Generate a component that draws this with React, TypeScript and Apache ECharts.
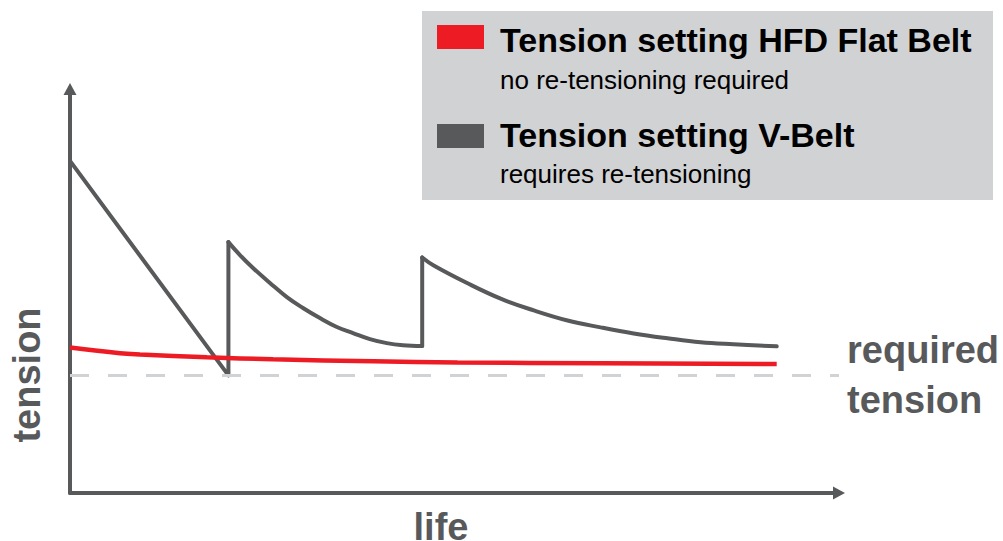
import React, { useEffect, useRef } from "react";
import * as echarts from "echarts";

// HFD flat belt tension over life
const flatLife = [0, 6.5, 9.1, 17.8, 26.4, 39.5, 50.4, 69.0, 91.9];
const flatTension = [36.0, 34.6, 34.3, 33.6, 33.1, 32.6, 32.3, 32.1, 31.9];

// V-belt tension over life (segments)
const vDropLife = [0, 20.6, 20.6];
const vDropTension = [82.2, 29.1, 62.1];
const vDecay1Life = [20.6, 22.1, 23.8, 26.0, 28.2, 30.3, 32.5, 34.7, 36.8, 39.0, 41.2, 43.3, 45.8];
const vDecay1Tension = [62.1, 58.9, 55.7, 52.0, 48.5, 45.8, 43.3, 41.1, 39.6, 38.1, 37.1, 36.6, 36.4];
const vJumpLife = [45.8, 45.8];
const vJumpTension = [36.4, 58.3];
const vDecay2Life = [45.8, 47.3, 51.7, 56.0, 60.3, 64.7, 69.0, 73.3, 77.7, 82.0, 86.3, 91.9];
const vDecay2Tension = [58.3, 56.3, 51.9, 48.1, 45.2, 42.7, 41.0, 39.5, 38.3, 37.3, 36.8, 36.3];

const requiredTension = 29.1;

const legendTitles = ["Tension setting HFD Flat Belt", "Tension setting V-Belt"];
const legendSubs = ["no re-tensioning required", "requires re-tensioning"];
const xName = "life";
const yName = "tension";
const requiredLabel = "required\ntension";

const RED = "#ed1c24";
const GRAY = "#58595b";
const LIGHT = "#d1d2d4";
const FONT = "'Liberation Sans', Arial, Helvetica, sans-serif";

const zip = (a: number[], b: number[]) => a.map((v, i) => [v, b[i]]);

export default function App() {
  const ref = useRef<HTMLDivElement>(null);
  useEffect(() => {
    if (!ref.current) return;
    const chart = echarts.init(ref.current, undefined, { renderer: "svg" });
    const grayLine = (smooth: boolean) => ({
      type: "line" as const,
      showSymbol: false,
      smooth: smooth ? 0.4 : false,
      lineStyle: { color: GRAY, width: 4, cap: "round" as const, join: "round" as const },
      itemStyle: { color: GRAY },
      z: 3,
    });
    chart.setOption({
      animation: false,
      grid: { left: 70, right: 164, top: 89, bottom: 48 },
      xAxis: {
        type: "value",
        min: 0,
        max: 100,
        axisLine: {
          show: true,
          symbol: ["none", "triangle"],
          symbolSize: [13, 12],
          lineStyle: { color: GRAY, width: 4 },
        },
        axisTick: { show: false },
        axisLabel: { show: false },
        splitLine: { show: false },
      },
      yAxis: {
        type: "value",
        min: 0,
        max: 100,
        axisLine: {
          show: true,
          symbol: ["none", "triangle"],
          symbolSize: [13, 12],
          lineStyle: { color: GRAY, width: 4 },
        },
        axisTick: { show: false },
        axisLabel: { show: false },
        splitLine: { show: false },
      },
      series: [
        {
          name: "required",
          type: "line",
          data: [],
          markLine: {
            silent: true,
            symbol: "none",
            lineStyle: { color: LIGHT, width: 3, type: [19, 19] },
            label: {
              show: true,
              position: "end",
              distance: 8,
              formatter: requiredLabel,
              color: GRAY,
              fontFamily: FONT,
              fontWeight: "bold",
              fontSize: 38,
              lineHeight: 50,
            },
            data: [{ yAxis: requiredTension }],
          },
          z: 1,
        },
        { ...grayLine(false), name: legendTitles[1], data: zip(vDropLife, vDropTension) },
        { ...grayLine(true), name: legendTitles[1], data: zip(vDecay1Life, vDecay1Tension) },
        { ...grayLine(false), name: legendTitles[1], data: zip(vJumpLife, vJumpTension) },
        { ...grayLine(true), name: legendTitles[1], data: zip(vDecay2Life, vDecay2Tension) },
        {
          name: legendTitles[0],
          type: "line",
          showSymbol: false,
          smooth: 0.4,
          data: zip(flatLife, flatTension),
          lineStyle: { color: RED, width: 4.5, cap: "butt" },
          itemStyle: { color: RED },
          z: 4,
        },
      ],
      graphic: [
        { type: "rect", shape: { x: 422, y: 11, width: 571, height: 189 }, style: { fill: LIGHT }, z: 10 },
        { type: "rect", shape: { x: 437, y: 25, width: 47, height: 24 }, style: { fill: RED }, z: 11 },
        { type: "rect", shape: { x: 437, y: 124, width: 47, height: 24 }, style: { fill: GRAY }, z: 11 },
        {
          type: "text", x: 500, y: 40, z: 11,
          style: { text: legendTitles[0], fill: "#000", font: `bold 34px ${FONT}`, textAlign: "left", textVerticalAlign: "middle" },
        },
        {
          type: "text", x: 500, y: 80, z: 11,
          style: { text: legendSubs[0], fill: "#000", font: `26px ${FONT}`, textAlign: "left", textVerticalAlign: "middle" },
        },
        {
          type: "text", x: 500, y: 135, z: 11,
          style: { text: legendTitles[1], fill: "#000", font: `bold 34px ${FONT}`, textAlign: "left", textVerticalAlign: "middle" },
        },
        {
          type: "text", x: 500, y: 174, z: 11,
          style: { text: legendSubs[1], fill: "#000", font: `26px ${FONT}`, textAlign: "left", textVerticalAlign: "middle" },
        },
        {
          type: "text", x: 441, y: 527, z: 11,
          style: { text: xName, fill: GRAY, font: `bold 38px ${FONT}`, textAlign: "center", textVerticalAlign: "middle" },
        },
        {
          type: "text", x: 27, y: 375, rotation: Math.PI / 2, z: 11,
          style: { text: yName, fill: GRAY, font: `bold 38px ${FONT}`, textAlign: "center", textVerticalAlign: "middle" },
        },
      ],
    });
    return () => chart.dispose();
  }, []);
  return (
    <div
      ref={ref}
      style={{ position: "fixed", left: 0, top: 0, width: 1003, height: 541, background: "#fff" }}
    />
  );
}
